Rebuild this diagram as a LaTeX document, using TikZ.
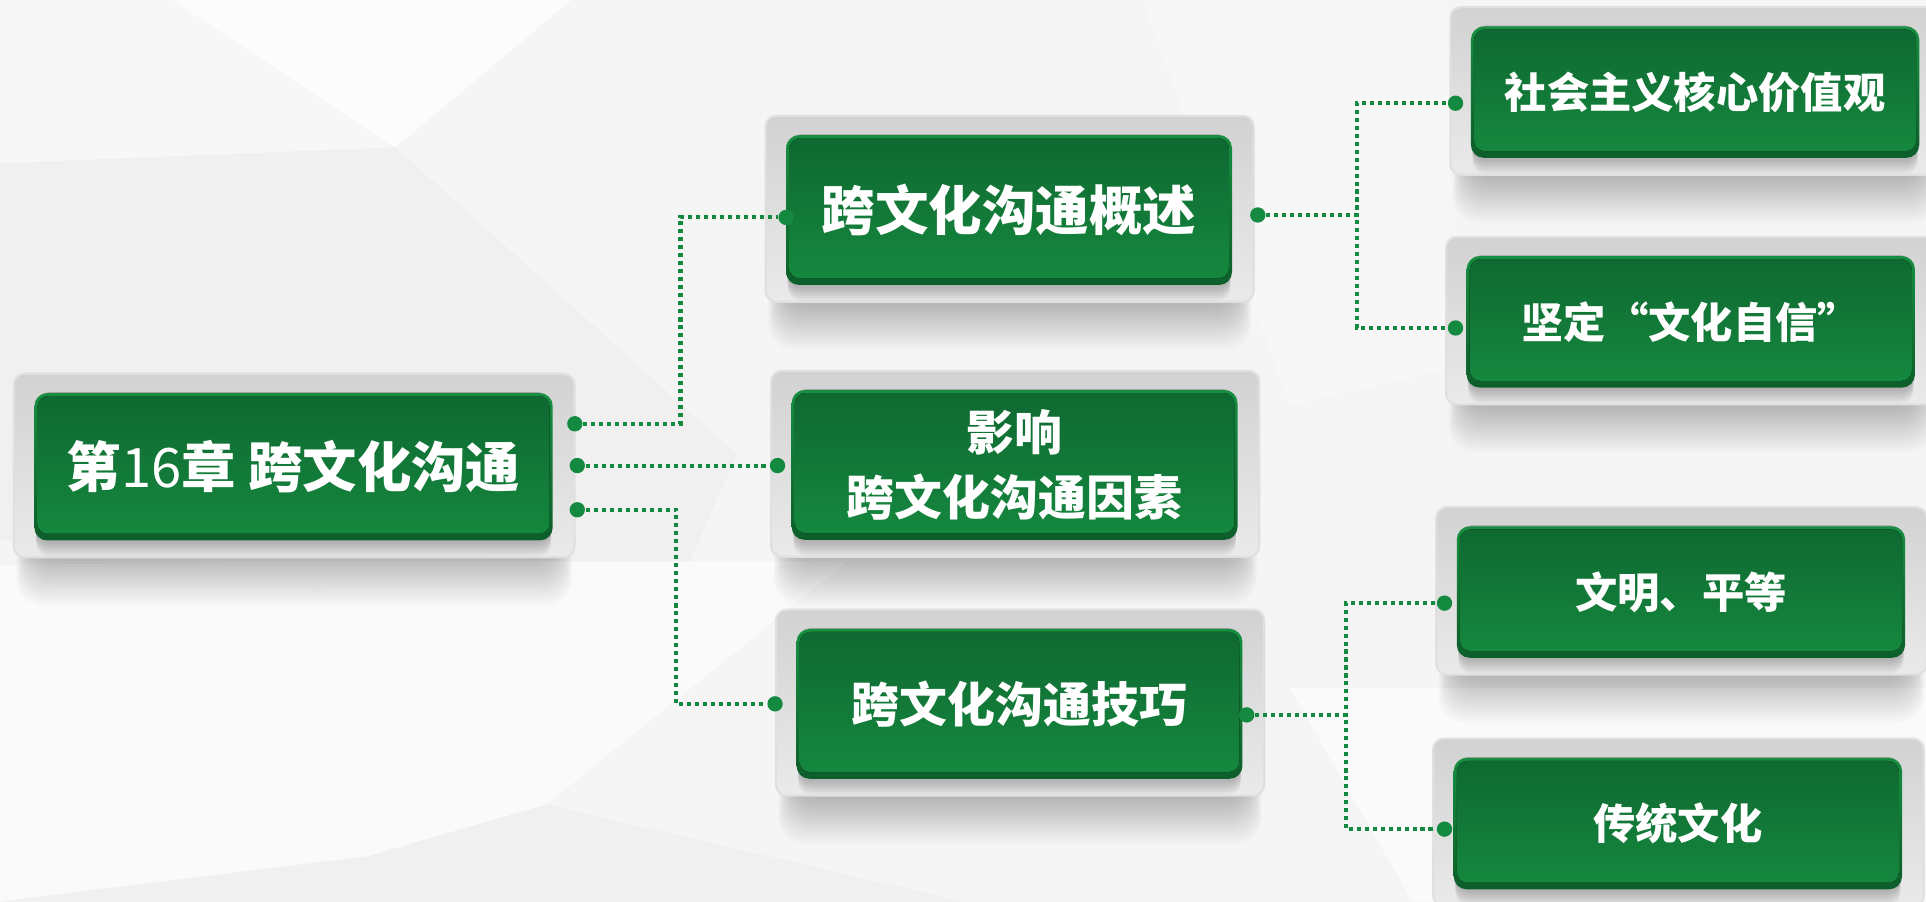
\documentclass[tikz,border=0pt]{standalone}
\usepackage{fontspec}
\newfontfamily\cjk{Noto Sans CJK SC}
\usetikzlibrary{positioning,calc,backgrounds}

\definecolor{gtop}{HTML}{0F6831}
\definecolor{gbot}{HTML}{15893F}
\definecolor{grim}{HTML}{178F41}
\definecolor{gdark}{HTML}{0D5E2A}
\definecolor{dotgreen}{HTML}{138A40}
\definecolor{traytop}{HTML}{D2D2D2}
\definecolor{traybot}{HTML}{EAEAEA}
\definecolor{trayedge}{HTML}{E0E0E0}

\begin{document}
\begin{tikzpicture}[x=0.1mm,y=-0.1mm,
    box/.style={rectangle,rounded corners=3pt,top color=grim,bottom color=gdark,
      text=white,align=center,inner sep=0pt,
      path picture={\fill[top color=gtop,bottom color=gbot,rounded corners=2.5pt]
        ([shift={(0.25mm,-0.25mm)}]path picture bounding box.north west) rectangle
        ([shift={(-0.25mm,0.55mm)}]path picture bounding box.south east);}},
    chapter/.style={box,minimum width=42.2mm,minimum height=12mm,
      font=\cjk\bfseries\fontsize{12.6}{15}\selectfont},
    topic/.style={box,minimum width=36.3mm,minimum height=12.2mm,
      font=\cjk\bfseries\fontsize{11.1}{15.1}\selectfont},
    point/.style={box,minimum width=36.5mm,minimum height=10.7mm,
      font=\cjk\bfseries\fontsize{9.8}{12}\selectfont},
    dot/.style={circle,fill=dotgreen,inner sep=0pt,minimum size=1.25mm},
    link/.style={dotgreen,line width=0.33mm,dash pattern=on 0.33mm off 0.32mm},
    tray/.style={rounded corners=2.5pt,top color=traytop,bottom color=traybot,
      draw=trayedge,line width=0.5pt}
  ]
  \useasboundingbox (0,0) rectangle (1568,734);

  % boxes
  \node[chapter] (root) at (239,380) {第{\mdseries 16}章 跨文化沟通};
  \node[topic,font=\cjk\bfseries\fontsize{12.4}{15}\selectfont] (ovw) at (821.5,171) {跨文化沟通概述};
  \node[topic] (fac) at (826,378.5) {影响\\跨文化沟通因素};
  \node[topic] (skl) at (830,573) {跨文化沟通技巧};
  \node[point] (val) at (1380,75) {社会主义核心价值观};
  \node[point] (conf) at (1376.5,262) {坚定“文化自信”};
  \node[point] (civ) at (1368.5,482) {文明、平等};
  \node[point] (trad) at (1366,670.5) {传统文化};

  % connector ends
  \node[dot] (r1) at (468,345) {};
  \node[dot] (r2) at (470,379) {};
  \node[dot] (r3) at (470,415) {};
  \node[dot] (a1) at (640,177) {};
  \node[dot] (b1) at (633,379) {};
  \node[dot] (c1) at (631,573) {};
  \node[dot] (a2) at (1024,175) {};
  \node[dot] (d1) at (1185,84) {};
  \node[dot] (e1) at (1185,267) {};
  \node[dot] (c2) at (1015,582) {};
  \node[dot] (f1) at (1176,491) {};
  \node[dot] (g1) at (1176,675) {};

  \draw[link] (r1) -| ($(r1)!.5!(a1)$) |- (a1);
  \draw[link] (r2) -- (b1);
  \draw[link] (r3) -| ($(r3)!.5!(c1)$) |- (c1);
  \draw[link] (a2) -| ($(a2)!.5!(d1)$) |- (d1);
  \draw[link] (a2) -| ($(a2)!.5!(e1)$) |- (e1);
  \draw[link] (c2) -| ($(c2)!.5!(f1)$) |- (f1);
  \draw[link] (c2) -| ($(c2)!.5!(g1)$) |- (g1);

  \begin{scope}[on background layer]
    % faint low-poly backdrop
    \fill[black!4] (0,0) rectangle (1568,734);
    \fill[black!3] (0,0) -- (140,0) -- (322,120) -- (0,133) -- cycle;
    \fill[black!1] (140,0) -- (465,0) -- (322,120) -- cycle;
    \fill[black!6] (0,133) -- (322,120) -- (600,370) -- (560,460) -- (0,440) -- cycle;
    \fill[black!2] (0,460) -- (235,457) -- (445,655) -- (300,697) -- (0,734) -- cycle;
    \fill[black!2] (235,457) -- (690,457) -- (445,655) -- cycle;
    \fill[black!6] (300,697) -- (445,655) -- (784,734) -- (0,734) -- cycle;
    \fill[black!3] (930,0) -- (1180,0) -- (1180,300) -- (1050,330) -- cycle;
    \fill[black!2] (1050,560) -- (1568,560) -- (1568,734) -- (1150,734) -- cycle;

    % trays with soft shadows
    \foreach \n in {root,ovw,fac,skl,val,conf,civ,trad}{
      \foreach \i in {0,...,15}
        \fill[black,opacity=0.016,rounded corners=6pt]
          ([shift={(-1.4mm+\i*0.08mm,0mm)}]\n.north west) rectangle
          ([shift={(1.5mm-\i*0.08mm,-5.2mm+\i*0.24mm)}]\n.south east);
      \path[tray] ([shift={(-1.6mm,1.5mm)}]\n.north west) rectangle
        ([shift={(1.7mm,-1.3mm)}]\n.south east);
      \foreach \i in {0,...,5}
        \fill[black,opacity=0.04,rounded corners=3pt]
          ([shift={(0.2mm,0mm)}]\n.north west) rectangle
          ([shift={(-0.2mm,-1.2mm+\i*0.2mm)}]\n.south east);
    }
  \end{scope}
\end{tikzpicture}
\end{document}
